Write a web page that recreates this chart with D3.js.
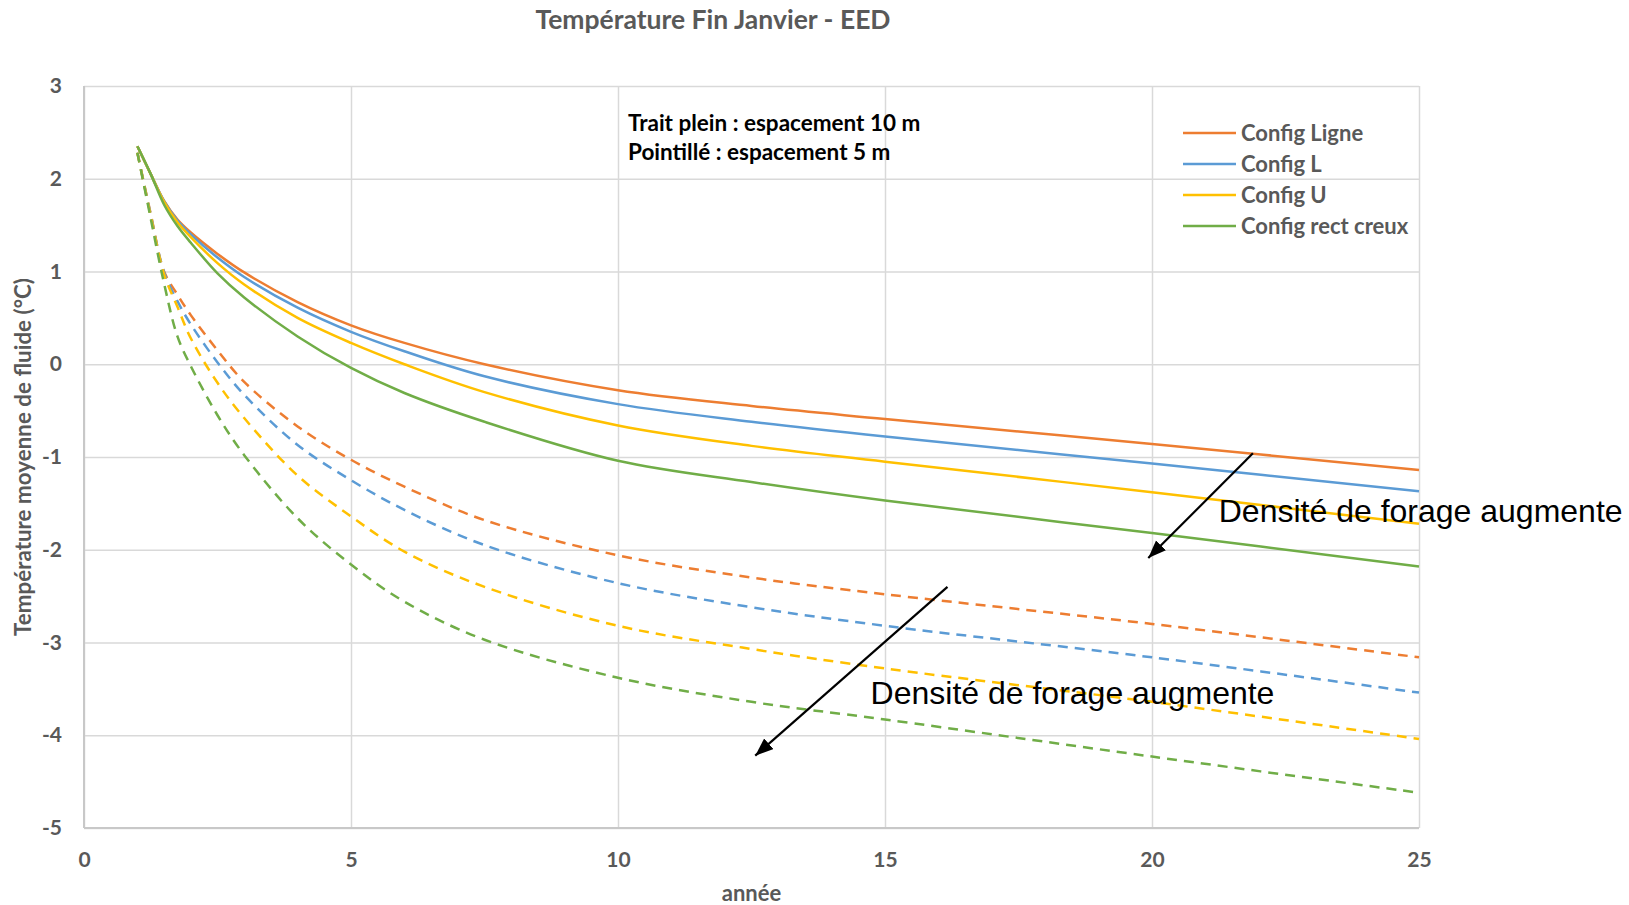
<!DOCTYPE html>
<html>
<head>
<meta charset="utf-8">
<script src="https://cdn.jsdelivr.net/npm/d3@7"></script>
<style>
  body { margin: 0; background: #fff; }
  svg { display: block; }
</style>
</head>
<body>
<div id="chart"></div>
<script>
// years
var years = [1, 1.25, 1.5, 1.75, 2, 2.5, 3, 4, 5, 6, 7.5, 10, 12.5, 15, 20, 25];

// solid lines : espacement 10 m
var ligne10 = [2.35, 2.05, 1.76, 1.56, 1.42, 1.19, 0.99, 0.67, 0.42, 0.23, 0.00, -0.28, -0.45, -0.59, -0.86, -1.14];
var l10     = [2.35, 2.05, 1.76, 1.55, 1.40, 1.15, 0.94, 0.61, 0.35, 0.14, -0.13, -0.43, -0.62, -0.78, -1.07, -1.37];
var u10     = [2.35, 2.05, 1.75, 1.53, 1.37, 1.09, 0.86, 0.50, 0.23, 0.00, -0.30, -0.66, -0.88, -1.05, -1.38, -1.72];
var rect10  = [2.35, 2.05, 1.72, 1.49, 1.31, 0.98, 0.72, 0.30, -0.04, -0.31, -0.62, -1.04, -1.27, -1.47, -1.82, -2.18];

// dashed lines : espacement 5 m
var ligne5 = [2.28, 1.62, 1.00, 0.75, 0.53, 0.15, -0.19, -0.67, -1.03, -1.32, -1.68, -2.06, -2.30, -2.48, -2.80, -3.16];
var l5     = [2.28, 1.61, 0.99, 0.68, 0.43, 0.02, -0.33, -0.87, -1.25, -1.57, -1.95, -2.36, -2.62, -2.82, -3.16, -3.54];
var u5     = [2.28, 1.60, 0.97, 0.62, 0.28, -0.20, -0.58, -1.20, -1.64, -2.02, -2.40, -2.82, -3.07, -3.28, -3.64, -4.04];
var rect5  = [2.28, 1.57, 0.87, 0.30, -0.02, -0.55, -0.98, -1.66, -2.16, -2.56, -2.97, -3.38, -3.64, -3.83, -4.23, -4.62];

var seriesNames = ["Config Ligne", "Config L", "Config U", "Config rect creux"];
var seriesColors = ["#ED7D31", "#5B9BD5", "#FFC000", "#70AD47"];
var solidSeries = [ligne10, l10, u10, rect10];
var dashedSeries = [ligne5, l5, u5, rect5];

var xTicks = [0, 5, 10, 15, 20, 25];
var yTicks = [-5, -4, -3, -2, -1, 0, 1, 2, 3];

// arrows in data units: [x1, y1, x2, y2]
var arrows = [[21.89, -0.96, 19.93, -2.09], [16.17, -2.40, 12.57, -4.22]];
var arrowLabels = [[21.25, -1.70], [14.73, -3.66]];

var W = 1629, H = 905;
var margin = { top: 86, right: 210, bottom: 77, left: 84 };
var width = W - margin.left - margin.right;
var height = H - margin.top - margin.bottom;

var grey = "#595959";
var labelFont = "Lato, 'Open Sans', sans-serif";

var svg = d3.select("#chart").append("svg")
  .attr("width", W)
  .attr("height", H);

var defs = svg.append("defs");
defs.append("marker")
  .attr("id", "head")
  .attr("markerUnits", "userSpaceOnUse")
  .attr("markerWidth", 20)
  .attr("markerHeight", 16)
  .attr("refX", 18)
  .attr("refY", 7)
  .attr("orient", "auto")
  .append("path")
  .attr("d", "M0,0 L18,7 L0,14 Z")
  .attr("fill", "#000");

var g = svg.append("g")
  .attr("transform", "translate(" + margin.left + "," + margin.top + ")");

var x = d3.scaleLinear().domain([0, 25]).range([0, width]);
var y = d3.scaleLinear().domain([-5, 3]).range([height, 0]);

// gridlines
g.append("g")
  .attr("class", "grid")
  .call(d3.axisLeft(y).tickValues(yTicks).tickSize(-width).tickFormat(""))
  .call((a) => a.select(".domain").remove())
  .selectAll("line")
  .attr("stroke", "#d9d9d9")
  .attr("stroke-width", 1.5);

g.append("g")
  .attr("class", "grid")
  .attr("transform", "translate(0," + height + ")")
  .call(d3.axisBottom(x).tickValues(xTicks).tickSize(-height).tickFormat(""))
  .call((a) => a.select(".domain").remove())
  .selectAll("line")
  .attr("stroke", "#d9d9d9")
  .attr("stroke-width", 1.5);

// axes lines
g.append("line")
  .attr("x1", 0).attr("x2", 0).attr("y1", 0).attr("y2", height)
  .attr("stroke", "#c8c8c8").attr("stroke-width", 2);
g.append("line")
  .attr("x1", 0).attr("x2", width).attr("y1", height).attr("y2", height)
  .attr("stroke", "#c8c8c8").attr("stroke-width", 2);

// tick labels (plain hyphen for negatives, like the source)
var yAxis = g.append("g")
  .call(d3.axisLeft(y).tickValues(yTicks).tickSize(0).tickPadding(22).tickFormat((d) => String(d)));
yAxis.select(".domain").remove();
yAxis.selectAll("text")
  .attr("fill", grey)
  .style("font-family", labelFont)
  .style("font-weight", "bold")
  .style("font-size", "21px");

var xAxis = g.append("g")
  .attr("transform", "translate(0," + height + ")")
  .call(d3.axisBottom(x).tickValues(xTicks).tickSize(0).tickPadding(24).tickFormat((d) => String(d)));
xAxis.select(".domain").remove();
xAxis.selectAll("text")
  .attr("fill", grey)
  .style("font-family", labelFont)
  .style("font-weight", "bold")
  .style("font-size", "21px");

// series
var line = d3.line()
  .x((d, i) => x(years[i]))
  .y((d) => y(d))
  .curve(d3.curveCatmullRom.alpha(0.5));

dashedSeries.forEach(function (s, i) {
  g.append("path")
    .attr("d", line(s))
    .attr("fill", "none")
    .attr("stroke", seriesColors[i])
    .attr("stroke-width", 2.5)
    .attr("stroke-dasharray", "10,7");
});

solidSeries.forEach(function (s, i) {
  g.append("path")
    .attr("d", line(s))
    .attr("fill", "none")
    .attr("stroke", seriesColors[i])
    .attr("stroke-width", 2.5);
});

// title
svg.append("text")
  .attr("x", 713)
  .attr("y", 29)
  .attr("text-anchor", "middle")
  .attr("fill", grey)
  .style("font-family", labelFont)
  .style("font-weight", "bold")
  .style("font-size", "26.5px")
  .text("Température Fin Janvier - EED");

// axis titles
svg.append("text")
  .attr("x", margin.left + width / 2)
  .attr("y", 901)
  .attr("text-anchor", "middle")
  .attr("fill", grey)
  .style("font-family", labelFont)
  .style("font-weight", "bold")
  .style("font-size", "22px")
  .text("année");

svg.append("text")
  .attr("transform", "translate(31," + (margin.top + height / 2) + ") rotate(-90)")
  .attr("text-anchor", "middle")
  .attr("fill", grey)
  .style("font-family", labelFont)
  .style("font-weight", "bold")
  .style("font-size", "22.4px")
  .text("Température moyenne de fluide (°C)");

// note
var note = svg.append("text")
  .attr("x", 628)
  .attr("y", 131)
  .attr("fill", "#000")
  .style("font-family", labelFont)
  .style("font-weight", "bold")
  .style("font-size", "22.5px");
note.append("tspan").attr("x", 628).attr("dy", 0).text("Trait plein : espacement 10 m");
note.append("tspan").attr("x", 628).attr("dy", 29).text("Pointillé : espacement 5 m");

// legend
var legend = svg.append("g").attr("transform", "translate(1183,133)");
seriesNames.forEach(function (name, i) {
  var row = legend.append("g").attr("transform", "translate(0," + i * 31 + ")");
  row.append("line")
    .attr("x1", 0).attr("x2", 53)
    .attr("stroke", seriesColors[i])
    .attr("stroke-width", 2.5);
  row.append("text")
    .attr("x", 58)
    .attr("dy", "0.35em")
    .attr("fill", grey)
    .style("font-family", labelFont)
    .style("font-weight", "bold")
    .style("font-size", "22px")
    .text(name);
});

// arrows + labels
arrows.forEach(function (a) {
  g.append("line")
    .attr("x1", x(a[0])).attr("y1", y(a[1]))
    .attr("x2", x(a[2])).attr("y2", y(a[3]))
    .attr("stroke", "#000")
    .attr("stroke-width", 2.2)
    .attr("marker-end", "url(#head)");
});

arrowLabels.forEach(function (p) {
  g.append("text")
    .attr("x", x(p[0]))
    .attr("y", y(p[1]))
    .attr("fill", "#000")
    .style("font-family", "'Liberation Sans', Arial, sans-serif")
    .style("font-size", "32px")
    .text("Densité de forage augmente");
});
</script>
</body>
</html>
